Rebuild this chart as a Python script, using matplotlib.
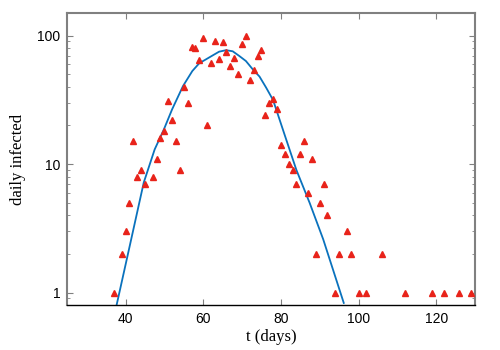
import matplotlib.pyplot as plt

# observed daily infected counts
days = [37, 39, 40, 41, 42, 43, 44, 45, 47, 48, 49, 50, 51, 52, 53, 54, 55, 56,
        57, 58, 59, 60, 61, 62, 63, 64, 65, 66, 67, 68, 69, 70, 71, 72, 73, 74,
        75, 76, 77, 78, 79, 80, 81, 82, 83, 84, 85, 86, 87, 88, 89, 90, 91, 92,
        94, 95, 97, 98, 100, 102, 106, 112, 119, 122, 126, 129]
infected = [1, 2, 3, 5, 15, 8, 9, 7, 8, 11, 16, 18, 31, 22, 15, 9, 40, 30,
            81, 80, 65, 96, 20, 61, 90, 66, 89, 74, 58, 67, 50, 86, 100, 45, 54, 70,
            77, 24, 30, 32, 27, 14, 12, 10, 9, 7, 12, 15, 6, 11, 2, 5, 7, 4,
            1, 2, 3, 2, 1, 1, 2, 1, 1, 1, 1, 1]

# model curve
fit_t = [37.7, 41.0, 44.7, 47.5, 49.9, 52.0, 54.8, 57.2, 59.0, 60.7, 62.4, 64.1,
         65.9, 67.6, 69.3, 71.0, 72.75, 74.5, 76.2, 78.0, 81.0, 84.0, 87.4, 90.9, 96.2]
fit_y = [0.8, 2.25, 7.2, 13.0, 18.7, 26.7, 40.5, 53, 61, 65.3, 70, 75,
         77, 75.5, 69.4, 63.4, 54.7, 48, 39.4, 31.5, 16.8, 9.0, 5.0, 2.6, 0.83]

fig = plt.figure(figsize=(5, 3.5), dpi=100)
ax = fig.add_axes([0.1346, 0.1286, 0.8154, 0.8343])

ax.plot(fit_t, fit_y, color="#0a72bd", lw=1.3, zorder=2)
ax.plot(days, infected, "^", color="#e8231a", ms=5, mec="#e8231a", zorder=3)

ax.set_yscale("log")
ax.set_xlim(25, 130)
ax.set_ylim(0.8, 150)
ax.set_xticks([40, 60, 80, 100, 120])
ax.set_yticks([1, 10, 100])
ax.set_yticklabels(["1", "10", "100"])

for s in ["left", "top", "right"]:
    ax.spines[s].set_color("#808080")
    ax.spines[s].set_linewidth(1.5)
ax.spines["bottom"].set_color("black")
ax.spines["bottom"].set_linewidth(1.0)

ax.tick_params(which="both", direction="in", top=True, right=True, color="#808080")
ax.tick_params(which="major", length=4, labelsize=10, pad=5)
ax.tick_params(which="minor", length=2)
for lab in ax.get_xticklabels() + ax.get_yticklabels():
    lab.set_family("Liberation Sans")

ax.set_xlabel("t (days)", fontsize=12, family="Liberation Serif", labelpad=2)
ax.set_ylabel("daily infected", fontsize=12, family="Liberation Serif", labelpad=8)

fig.savefig("out.png", dpi=100)
